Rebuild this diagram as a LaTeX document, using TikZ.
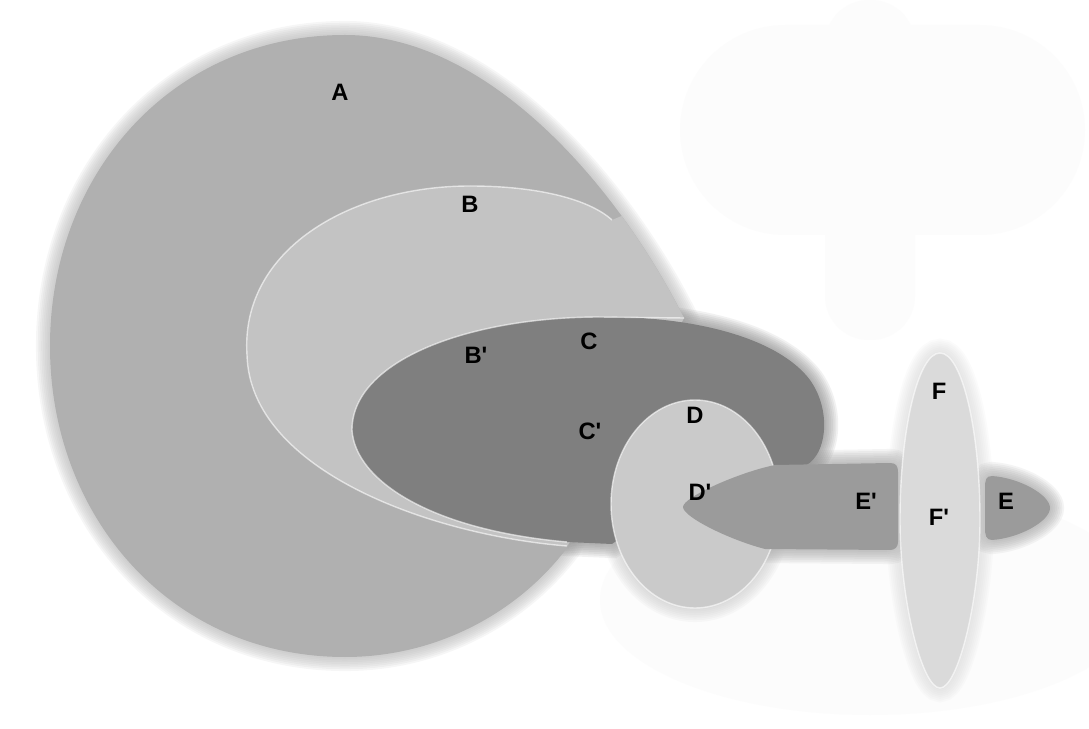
\documentclass[tikz,border=0pt]{standalone}
\usepackage{fontspec}
\setmainfont{Liberation Sans}[Ligatures=TeXOff]
\usepackage{tikz}

\definecolor{greyA}{HTML}{B0B0B0}
\definecolor{greyB}{HTML}{C3C3C3}
\definecolor{greyC}{HTML}{7F7F7F}
\definecolor{greyD}{HTML}{CACACA}
\definecolor{greyE}{HTML}{9B9B9B}
\definecolor{greyF}{HTML}{DADADA}
\definecolor{haze}{HTML}{FCFCFC}

% outlines of the regions (pixel units, y downwards)
\newcommand\regionA{(345,35) .. controls (490,35) and (620,190) .. (684,318) -- (567,548) .. controls (520,610) and (440,657) .. (345,657) .. controls (172,657) and (50,518) .. (50,346) .. controls (50,174) and (172,35) .. (345,35) -- cycle}
\newcommand\regionB{(612,220) -- (660,200) -- (720,320) -- (640,440) -- (567,546) .. controls (430,535) and (250,470) .. (247,355) .. controls (240,250) and (350,186) .. (470,186) .. controls (540,186) and (590,200) .. (612,220) -- cycle}
\newcommand\regionC{(352,430) .. controls (352,360) and (470,317) .. (600,317) .. controls (700,316) and (780,340) .. (810,380) .. controls (835,415) and (825,468) .. (795,468) -- (700,480) -- (612,544) -- (567,542) .. controls (430,530) and (355,480) .. (352,430) -- cycle}
\newcommand\regionD{(695,504) ellipse [x radius=84, y radius=104]}
\newcommand\regionEl{(683,507) .. controls (683,497) and (740,472) .. (775,465) -- (890,463) .. controls (896,463) and (898,466) .. (898,472) -- (898,542) .. controls (898,547) and (895,550) .. (890,550) -- (765,549) .. controls (730,540) and (683,517) .. (683,507) -- cycle}
\newcommand\regionEr{(992,476) .. controls (1020,478) and (1050,495) .. (1050,508) .. controls (1050,521) and (1020,538) .. (992,540) .. controls (986,540) and (985,535) .. (985,528) -- (985,488) .. controls (985,480) and (986,476) .. (992,476) -- cycle}
\newcommand\regionF{(940,353) .. controls (962,353) and (980,430) .. (980,520) .. controls (980,600) and (958,688) .. (940,688) .. controls (922,688) and (900,600) .. (900,520) .. controls (900,430) and (918,353) .. (940,353) -- cycle}

\begin{document}
\begin{tikzpicture}[x=0.02cm, y=-0.02cm,
  lbl/.style={font=\fontsize{13.5}{16}\selectfont\bfseries, inner sep=0pt},
  rim/.style={white, line width=0.8pt, opacity=0.6}]
  \fill[white] (0,0) rectangle (1089,729);
  \useasboundingbox (0,0) rectangle (1089,729);

  % faint background shapes
  \fill[haze, rounded corners=60] (680,25) rectangle (1085,235);
  \fill[haze, rounded corners=25] (825,0) rectangle (915,340);
  \fill[haze] (870,600) ellipse [x radius=270, y radius=115];

  % soft edges
  \foreach \w in {2,4,...,16} {
    \draw[greyA, line width=\w pt, opacity=.1] \regionA;
    \draw[greyC, line width=\w pt, opacity=.1] \regionC;
    \draw[greyD, line width=\w pt, opacity=.1] \regionD;
    \draw[greyE, line width=\w pt, opacity=.1] \regionEl;
    \draw[greyE, line width=\w pt, opacity=.1] \regionEr;
    \draw[greyF, line width=\w pt, opacity=.1] \regionF;
  }

  \fill[greyA] \regionA;
  \begin{scope}
    \clip \regionA;
    \fill[greyB] \regionB;
  \end{scope}
  \draw[rim] (567,546) .. controls (430,535) and (250,470) .. (247,355) .. controls (240,250) and (350,186) .. (470,186) .. controls (540,186) and (590,200) .. (612,220);
  \fill[greyC] \regionC;
  \draw[rim] (567,542) .. controls (430,530) and (355,480) .. (352,430) .. controls (352,360) and (470,317) .. (600,317) -- (684,318);
  \fill[greyD] \regionD;
  \draw[rim] \regionD;
  \fill[greyE] \regionEl;
  \fill[greyF] \regionF;
  \draw[rim] \regionF;
  \fill[greyE] \regionEr;

  % labels
  \node[lbl] (lA)  at (340,92)  {A};
  \node[lbl] (lB)  at (470,204) {B};
  \node[lbl] (lBp) at (476,355) {B'};
  \node[lbl] (lC)  at (589,341) {C};
  \node[lbl] (lCp) at (590,431) {C'};
  \node[lbl] (lD)  at (695,415) {D};
  \node[lbl] (lDp) at (700,492) {D'};
  \node[lbl] (lEp) at (866,501) {E'};
  \node[lbl] (lF)  at (939,391) {F};
  \node[lbl] (lFp) at (939,517) {F'};
  \node[lbl] (lE)  at (1006,501) {E};
\end{tikzpicture}
\end{document}
